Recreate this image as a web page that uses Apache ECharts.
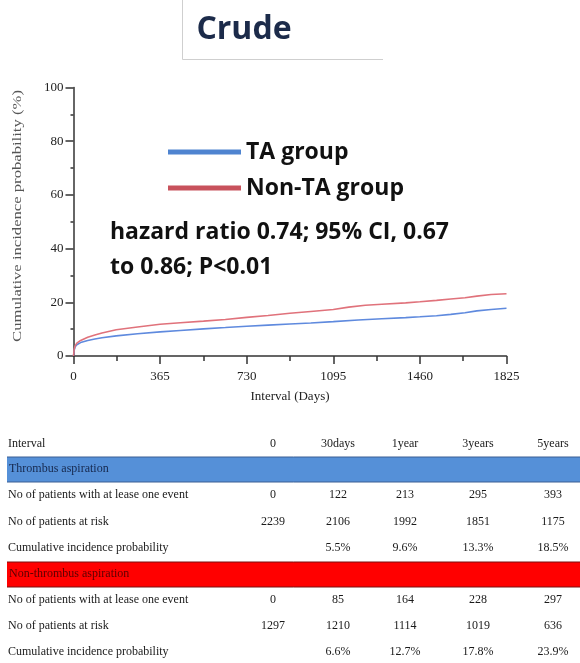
<!DOCTYPE html>
<html>
<head>
<meta charset="utf-8">
<script src="https://cdn.jsdelivr.net/npm/echarts@6/dist/echarts.min.js"></script>
<style>
  html, body { margin: 0; padding: 0; background: #fff; }
  #chart { width: 580px; height: 663px; }
</style>
</head>
<body>
<div id="chart"></div>
<script>
// Cumulative incidence curves: [day, percent]
var taGroup = [
  [0, 0], [3, 2.2], [7, 3.4], [14, 4.2], [30, 5.0], [60, 5.8], [90, 6.3], [120, 6.8],
  [180, 7.5], [270, 8.3], [365, 9.0], [450, 9.5], [548, 10.1], [640, 10.6], [730, 11.1],
  [820, 11.5], [912, 11.9], [1000, 12.3], [1095, 12.8], [1200, 13.4], [1300, 13.9],
  [1400, 14.3], [1460, 14.6], [1530, 15.0], [1590, 15.5], [1650, 16.1], [1700, 16.8],
  [1760, 17.3], [1825, 17.8]
];
var nonTaGroup = [
  [0, 0], [3, 2.6], [7, 3.8], [14, 4.8], [30, 5.8], [60, 7.0], [90, 7.8], [120, 8.6],
  [180, 9.8], [270, 10.8], [365, 11.8], [450, 12.4], [548, 13.0], [640, 13.6], [730, 14.4],
  [820, 15.1], [912, 15.9], [1000, 16.6], [1095, 17.3], [1160, 18.2], [1230, 18.9],
  [1300, 19.3], [1400, 19.8], [1460, 20.2], [1530, 20.7], [1590, 21.2], [1650, 21.7],
  [1700, 22.3], [1760, 22.9], [1825, 23.2]
];

// Risk table
var tableCols = ['0', '30days', '1year', '3years', '5years'];
var taEvents = ['0', '122', '213', '295', '393'];
var taAtRisk = ['2239', '2106', '1992', '1851', '1175'];
var taCumProb = ['', '5.5%', '9.6%', '13.3%', '18.5%'];
var nonTaEvents = ['0', '85', '164', '228', '297'];
var nonTaAtRisk = ['1297', '1210', '1114', '1019', '636'];
var nonTaCumProb = ['', '6.6%', '12.7%', '17.8%', '23.9%'];

var serif = '"Liberation Serif", "DejaVu Serif", serif';
var sans = '"Open Sans", Lato, sans-serif';

var chart = echarts.init(document.getElementById('chart'));

// table layout
var colX = [273, 338, 405, 478, 553];
var rowY = [444, 469, 495, 522, 548, 574, 600, 626, 652];
var tableFont = '12px ' + serif;
var graphics = [];

function textEl(x, y, str, align, color, font) {
  return {
    type: 'text', x: x, y: y,
    style: { text: str, font: font || tableFont, fill: color || '#1a1a1a', align: align || 'left', verticalAlign: 'middle' }
  };
}
function dataRow(y, label, vals) {
  graphics.push(textEl(8, y, label));
  vals.forEach(function (v, i) { graphics.push(textEl(colX[i], y, v, 'center')); });
}
function bandRow(y, label, fill, edge, textColor) {
  graphics.push({ type: 'rect', shape: { x: 7, y: y - 12, width: 573, height: 25 },
    style: { fill: fill, stroke: null } });
  graphics.push({ type: 'line', shape: { x1: 7, y1: y - 12, x2: 580, y2: y - 12 }, style: { stroke: edge, lineWidth: 1 } });
  graphics.push({ type: 'line', shape: { x1: 7, y1: y + 13, x2: 580, y2: y + 13 }, style: { stroke: edge, lineWidth: 1 } });
  graphics.push(textEl(9, y, label, 'left', textColor));
}

// title frame
graphics.push({ type: 'line', shape: { x1: 182.5, y1: 0, x2: 182.5, y2: 59.5 }, style: { stroke: '#cfcfcf', lineWidth: 1 } });
graphics.push({ type: 'line', shape: { x1: 182.5, y1: 59.5, x2: 383, y2: 59.5 }, style: { stroke: '#cfcfcf', lineWidth: 1 } });
graphics.push(textEl(244, 30, 'Crude', 'center', '#1c2b4a', 'bold 32px ' + sans));

// y-axis title, drawn stretched along its length
graphics.push({
  type: 'text', x: 18, y: 216, rotation: Math.PI / 2, scaleX: 1.28,
  style: { text: 'Cumulative incidence probability (%)', font: '13px ' + serif, fill: '#555',
    align: 'center', verticalAlign: 'middle' }
});

// hazard ratio annotation
graphics.push(textEl(110, 232, 'hazard ratio 0.74; 95% CI, 0.67', 'left', '#111', 'bold 23px ' + sans));
graphics.push(textEl(110, 267, 'to 0.86; P<0.01', 'left', '#111', 'bold 23px ' + sans));

// table rows
graphics.push(textEl(8, rowY[0], 'Interval'));
tableCols.forEach(function (c, i) { graphics.push(textEl(colX[i], rowY[0], c, 'center')); });
bandRow(rowY[1], 'Thrombus aspiration', '#5590d8', '#3b5f94', '#16284d');
dataRow(rowY[2], 'No of patients with at lease one event', taEvents);
dataRow(rowY[3], 'No of patients at risk', taAtRisk);
dataRow(rowY[4], 'Cumulative incidence probability', taCumProb);
bandRow(rowY[5], 'Non-thrombus aspiration', '#ff0000', '#7a1010', '#5a0000');
dataRow(rowY[6], 'No of patients with at lease one event', nonTaEvents);
dataRow(rowY[7], 'No of patients at risk', nonTaAtRisk);
dataRow(rowY[8], 'Cumulative incidence probability', nonTaCumProb);

var axisColor = '#333';
chart.setOption({
  animation: false,
  backgroundColor: '#fff',
  grid: { left: 73.5, right: 73.5, top: 87.5, bottom: 307, containLabel: false },
  legend: {
    orient: 'vertical', left: 163, top: 134,
    icon: 'rect', itemWidth: 73, itemHeight: 5, itemGap: 10, itemTextGap: 15,
    textStyle: { fontFamily: sans, fontSize: 23, fontWeight: 'bold', color: '#111', lineHeight: 26 },
    data: [
      { name: 'TA group', itemStyle: { color: '#4f84d0' } },
      { name: 'Non-TA group', itemStyle: { color: '#c8525c' } }
    ]
  },
  xAxis: {
    type: 'value', min: 0, max: 1825, interval: 365,
    name: 'Interval (Days)', nameLocation: 'middle', nameGap: 34,
    nameTextStyle: { fontFamily: serif, fontSize: 13, color: '#222' },
    axisLine: { lineStyle: { color: axisColor, width: 1.5 } },
    axisTick: { show: true, inside: false, length: 8, lineStyle: { color: axisColor, width: 1.5 } },
    minorTick: { show: true, splitNumber: 2, length: 5, lineStyle: { color: axisColor, width: 1.5 } },
    axisLabel: { fontFamily: serif, fontSize: 13, color: '#222', margin: 14,
      formatter: function (v) { return String(v); } },
    splitLine: { show: false }
  },
  yAxis: {
    type: 'value', min: 0, max: 100, interval: 20,
    axisLine: { show: true, lineStyle: { color: axisColor, width: 1.5 } },
    axisTick: { show: true, inside: false, length: 8, lineStyle: { color: axisColor, width: 1.5 } },
    minorTick: { show: true, splitNumber: 2, length: 3, lineStyle: { color: axisColor, width: 1.5 } },
    axisLabel: { fontFamily: serif, fontSize: 13, color: '#222', margin: 10 },
    splitLine: { show: false }
  },
  series: [
    { name: 'TA group', type: 'line', data: taGroup, showSymbol: false, symbol: 'none',
      lineStyle: { color: '#5f8ade', width: 1.6 }, itemStyle: { color: '#5f8ade' } },
    { name: 'Non-TA group', type: 'line', data: nonTaGroup, showSymbol: false, symbol: 'none',
      lineStyle: { color: '#e0727b', width: 1.6 }, itemStyle: { color: '#e0727b' } }
  ],
  graphic: graphics
});
</script>
</body>
</html>
